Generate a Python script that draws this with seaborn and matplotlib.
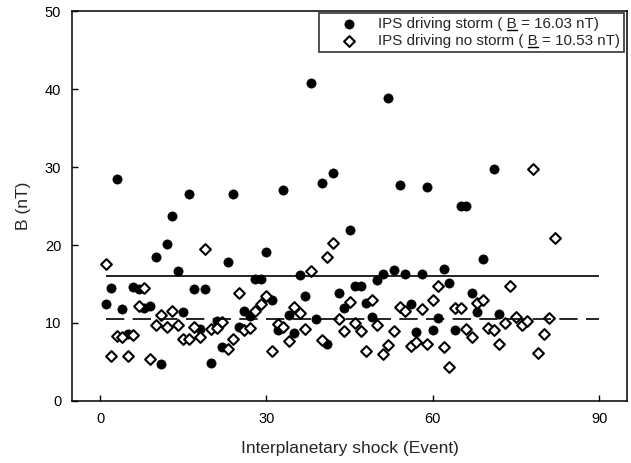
import numpy as np
import pandas as pd
import matplotlib
matplotlib.use("Agg")
import matplotlib.pyplot as plt
import seaborn as sns

# events with IPS driving a storm (filled circles)
storm_event = [1, 2, 3, 4, 5, 6, 7, 8, 9, 10,
               11, 12, 13, 14, 15, 16, 17, 18, 19, 20,
               21, 22, 23, 24, 25, 26, 27, 28, 29, 30,
               31, 32, 33, 34, 35, 36, 37, 38, 39, 40,
               41, 42, 43, 44, 45, 46, 47, 48, 49, 50,
               51, 52, 53, 54, 55, 56, 57, 58, 59, 60,
               61, 62, 63, 64, 65, 66, 67, 68, 69, 71, 72]
storm_b = [12.4, 14.5, 28.5, 11.8, 8.6, 14.6, 14.4, 11.9, 12.2, 18.5,
           4.7, 20.1, 23.7, 16.7, 11.4, 26.5, 14.3, 9.2, 14.3, 4.9,
           10.3, 6.9, 17.8, 26.5, 9.5, 11.6, 10.9, 15.6, 15.6, 19.1,
           12.9, 9.1, 27.0, 11.0, 8.7, 16.2, 13.5, 40.8, 10.5, 28.0,
           7.3, 29.3, 13.9, 11.9, 21.9, 14.8, 14.7, 12.6, 10.8, 15.5,
           16.3, 38.8, 16.8, 27.7, 16.3, 12.4, 8.9, 16.3, 27.4, 9.1,
           10.6, 16.9, 15.1, 9.1, 25.0, 25.0, 13.8, 11.4, 18.2, 29.7, 11.1]

# events with IPS driving no storm (open diamonds)
nostorm_event = [1, 2, 3, 4, 5, 6, 7, 8, 9, 10,
                 11, 12, 13, 14, 15, 16, 17, 18, 19, 20,
                 21, 22, 23, 24, 25, 26, 27, 28, 29, 30,
                 31, 32, 33, 34, 35, 36, 37, 38, 40,
                 41, 42, 43, 44, 45, 46, 47, 48, 49, 50,
                 51, 52, 53, 54, 55, 56, 57, 58, 59, 60,
                 61, 62, 63, 64, 65, 66, 67, 68, 69, 70,
                 71, 72, 73, 74, 75, 76, 77, 78, 79, 80, 81, 82]
nostorm_b = [17.6, 5.8, 8.3, 8.2, 5.8, 8.5, 12.2, 14.5, 5.4, 9.8,
             11.0, 9.5, 11.5, 9.8, 8.0, 8.0, 9.5, 8.2, 19.5, 9.2,
             9.4, 10.1, 6.7, 7.9, 13.8, 9.1, 9.3, 11.6, 12.4, 13.4,
             6.4, 9.9, 9.5, 7.7, 12.0, 11.3, 9.2, 16.7, 7.8,
             18.5, 20.3, 10.5, 9.0, 12.7, 10.0, 9.0, 6.4, 12.9, 9.8,
             6.0, 7.2, 9.0, 12.0, 11.5, 7.1, 7.6, 11.8, 7.3, 13.0,
             14.8, 6.9, 4.3, 11.9, 11.9, 9.2, 8.2, 12.6, 12.9, 9.4,
             9.1, 7.3, 10.0, 14.7, 10.8, 9.7, 10.3, 29.8, 6.2, 8.6, 10.7, 20.9]

storm_mean = 16.03
nostorm_mean = 10.53
mean_line_span = [1, 90]

x_ticks = [0, 30, 60, 90]
y_ticks = [0, 10, 20, 30, 40, 50]

storm_df = pd.DataFrame({"event": storm_event, "B": storm_b})
nostorm_df = pd.DataFrame({"event": nostorm_event, "B": nostorm_b})

sns.set_style("ticks")
plt.rcParams["font.family"] = ["Liberation Sans", "DejaVu Sans"]

labels = ["IPS driving storm ( B = %.2f nT)" % storm_mean,
          "IPS driving no storm ( B = %.2f nT)" % nostorm_mean]

fig = plt.figure(figsize=(6.31, 4.63), dpi=100)
ax = fig.add_axes([0.1146, 0.134, 0.879, 0.842])

sns.scatterplot(data=storm_df, x="event", y="B", ax=ax, marker="o", color="black",
                s=44, edgecolor="black", linewidth=0.5, label=labels[0])
sns.scatterplot(data=nostorm_df, x="event", y="B", ax=ax, marker="D", facecolor="white",
                edgecolor="black", s=30, linewidth=1.5, label=labels[1])

ax.hlines(storm_mean, mean_line_span[0], mean_line_span[1], color="black", linewidth=1.2, zorder=1)
ax.hlines(nostorm_mean, mean_line_span[0], mean_line_span[1], color="black", linewidth=1.2,
          linestyles=(0, (11, 5)), zorder=1)

ax.set_xlim(-5, 95)
ax.set_ylim(0, 50)
ax.set_xticks(x_ticks)
ax.set_yticks(y_ticks)
ax.tick_params(direction="in", length=4, width=1, labelsize=10.5, colors="black", pad=8)
ax.set_xlabel("Interplanetary shock (Event)", fontsize=12.5, labelpad=11)
ax.set_ylabel("B (nT)", fontsize=12.5, labelpad=10)

for sp in ax.spines.values():
    sp.set_visible(True)
    sp.set_color("black")
    sp.set_linewidth(1.1)

leg = ax.legend(loc="upper right", bbox_to_anchor=(0.9946, 0.995), fontsize=10.9, frameon=True,
                fancybox=False, edgecolor="black", borderpad=0.25, handletextpad=0.25,
                labelspacing=0.2, borderaxespad=0.0, handlelength=3.4)
leg.get_frame().set_linewidth(1.2)

# underline the B of each label (B-bar in the original)
fig.canvas.draw()
renderer = fig.canvas.get_renderer()
for txt in leg.get_texts():
    s = txt.get_text()
    i = s.index("B")
    full = txt.get_window_extent(renderer)
    txt.set_text(s[:i])
    pre = txt.get_window_extent(renderer)
    txt.set_text(s[:i + 1])
    withb = txt.get_window_extent(renderer)
    txt.set_text(s)
    x0 = full.x0 + pre.width
    x1 = full.x0 + withb.width
    y = full.y0 + 1
    fig.lines.append(plt.Line2D([x0 / fig.dpi / fig.get_figwidth(), x1 / fig.dpi / fig.get_figwidth()],
                                [y / fig.dpi / fig.get_figheight()] * 2,
                                transform=fig.transFigure, color="black", linewidth=1.0))

fig.savefig("out.png", dpi=100)
